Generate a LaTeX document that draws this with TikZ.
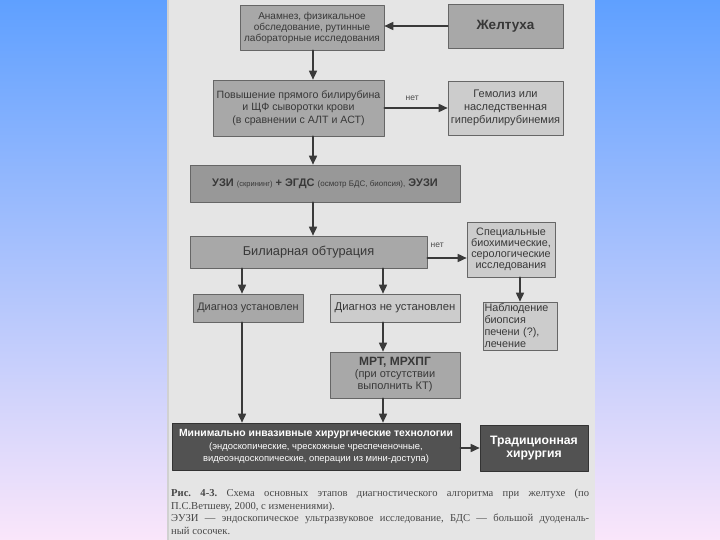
\documentclass[tikz,border=0pt]{standalone}
\usepackage{fontspec}
\setmainfont{Liberation Sans}
\newfontfamily\capfont{Liberation Serif}
\usetikzlibrary{arrows.meta}
\definecolor{bgtop}{RGB}{95,160,255}
\definecolor{bgmid}{RGB}{160,200,242}
\definecolor{bgbot}{RGB}{250,230,250}
\definecolor{pagegray}{RGB}{229,229,229}
\definecolor{inkgray}{RGB}{58,58,58}
\definecolor{fillmid}{RGB}{168,168,168}
\definecolor{filllight}{RGB}{204,204,204}
\definecolor{filldeep}{RGB}{152,152,152}
\definecolor{filldark}{RGB}{82,82,82}
\frenchspacing

\begin{document}
\begin{tikzpicture}[x=1pt,y=-1pt,line cap=round,line join=round,
  box/.style={draw=black!60,line width=0.6pt,text=black!78,align=center,inner sep=1pt,font=\fontsize{9.5}{11.5}\selectfont},
  darkbox/.style={box,fill=filldark,draw=black!80,text=white!88},
  arr/.style={draw=inkgray,line width=1.6pt,-{Triangle[length=9pt,width=8pt]}},
  nolabel/.style={font=\fontsize{8.5}{9}\selectfont,text=black!70}]
\useasboundingbox (0,0) rectangle (720,540);
\shade[top color=bgtop,middle color=bgmid,bottom color=bgbot] (0,0) rectangle (720,540);
\fill[pagegray] (167,0) rectangle (595,540);
\fill[black!18] (167,0) rectangle (169,540);
% columns of the vertical connectors
\coordinate (spine) at (313,0);
\coordinate (colA) at (242,0);
\coordinate (colB) at (383,0);
% first rows
\node[box,fill=fillmid,minimum width=144pt,minimum height=45pt,font=\fontsize{10}{11}\selectfont] (anam) at (312,27.5) {Анамнез, физикальное\\обследование, рутинные\\лабораторные исследования};
\node[box,fill=fillmid,minimum width=115pt,minimum height=44pt,font=\fontsize{13.5}{15}\selectfont\bfseries] (zhelt) at (505.5,26) {Желтуха};
\node[box,fill=fillmid,minimum width=171pt,minimum height=56pt,font=\fontsize{10.6}{12.5}\selectfont] (pov) at (298.5,108) {Повышение прямого билирубина\\и ЩФ сыворотки крови\\(в сравнении с АЛТ и АСТ)};
\node[box,fill=filllight,minimum width=115pt,minimum height=54pt,font=\fontsize{11}{12.7}\selectfont] (gem) at (505.5,108) {Гемолиз или\\наследственная\\гипербилирубинемия};
\node[box,fill=filldeep,minimum width=270pt,minimum height=37pt,font=\fontsize{11}{12}\selectfont\bfseries] (uzi) at (325,183.5) {УЗИ {\mdseries\fontsize{7.5}{8}\selectfont(скрининг)} + ЭГДС {\mdseries\fontsize{8}{8}\selectfont(осмотр БДС, биопсия),} ЭУЗИ};
% obstruction and its branches
\node[box,fill=fillmid,minimum width=237pt,minimum height=32pt,font=\fontsize{12.8}{14}\selectfont] (bil) at (308.5,252) {Билиарная обтурация};
\node[box,fill=filllight,minimum width=88pt,minimum height=55pt,font=\fontsize{10.8}{11}\selectfont] (spec) at (511,249.5) {Специальные\\биохимические,\\серологические\\исследования};
\node[box,fill=fillmid,minimum width=110pt,minimum height=28pt,font=\fontsize{10.9}{12}\selectfont] (ust) at (248,308) {Диагноз установлен};
\node[box,fill=filllight,minimum width=130pt,minimum height=28pt,font=\fontsize{11.3}{12}\selectfont] (nust) at (395,308) {Диагноз не установлен};
\node[box,fill=filllight,minimum width=74pt,minimum height=48pt,text width=71pt,align=left,font=\fontsize{10.8}{12}\selectfont] (nab) at (520,326) {Наблюдение\\биопсия\\печени (?),\\лечение};
\node[box,fill=fillmid,minimum width=130pt,minimum height=46pt,font=\fontsize{11}{12}\selectfont] (mrt) at (395,375) {{\bfseries\fontsize{12}{12}\selectfont МРТ, МРХПГ}\\(при отсутствии\\выполнить КТ)};
% treatment
\node[darkbox,minimum width=288pt,minimum height=47pt,font=\fontsize{9.4}{12.5}\selectfont] (mini) at (316,446.5) {{\bfseries\fontsize{10.4}{12.5}\selectfont Минимально инвазивные хирургические технологии}\\(эндоскопические, чрескожные чреспеченочные,\\видеоэндоскопические, операции из мини-доступа)};
\node[darkbox,minimum width=108pt,minimum height=46pt,font=\fontsize{12.2}{13.5}\selectfont\bfseries] (trad) at (534,448) {Традиционная\\хирургия};
% connectors
\draw[arr] (zhelt.west) -- (zhelt.west -| anam.east);
\draw[arr] (anam.south -| spine) -- (pov.north -| spine);
\draw[arr] (pov.east) -- node[nolabel,above=3pt,pos=0.44] {нет} (gem.west);
\draw[arr] (pov.south -| spine) -- (uzi.north -| spine);
\draw[arr] (uzi.south -| spine) -- (bil.north -| spine);
\draw[arr] ([yshift=-6pt]bil.east) -- node[nolabel,above=6pt,pos=0.25] {нет} ([yshift=-6pt]bil.east -| spec.west);
\draw[arr] (bil.south -| colA) -- (ust.north -| colA);
\draw[arr] (bil.south -| colB) -- (nust.north -| colB);
\draw[arr] (spec.south -| nab.north) -- (nab.north);
\draw[arr] (nust.south -| colB) -- (mrt.north -| colB);
\draw[arr] (ust.south -| colA) -- (mini.north -| colA);
\draw[arr] (mrt.south -| colB) -- (mini.north -| colB);
\draw[arr] (mini.east |- trad.west) -- (trad.west);
% caption
\node[anchor=north west,align=left,inner sep=0pt,text=black!72,font=\capfont\fontsize{10.6}{12.7}\selectfont] (caption) at (171,489) {\makebox[418pt][s]{{\bfseries Рис. 4-3.} Схема основных этапов диагностического алгоритма при желтухе (по}\\П.С.Ветшеву, 2000, с изменениями).\\\makebox[418pt][s]{ЭУЗИ — эндоскопическое ультразвуковое исследование, БДС — большой дуоденаль-}\\ный сосочек.};
\end{tikzpicture}
\end{document}
